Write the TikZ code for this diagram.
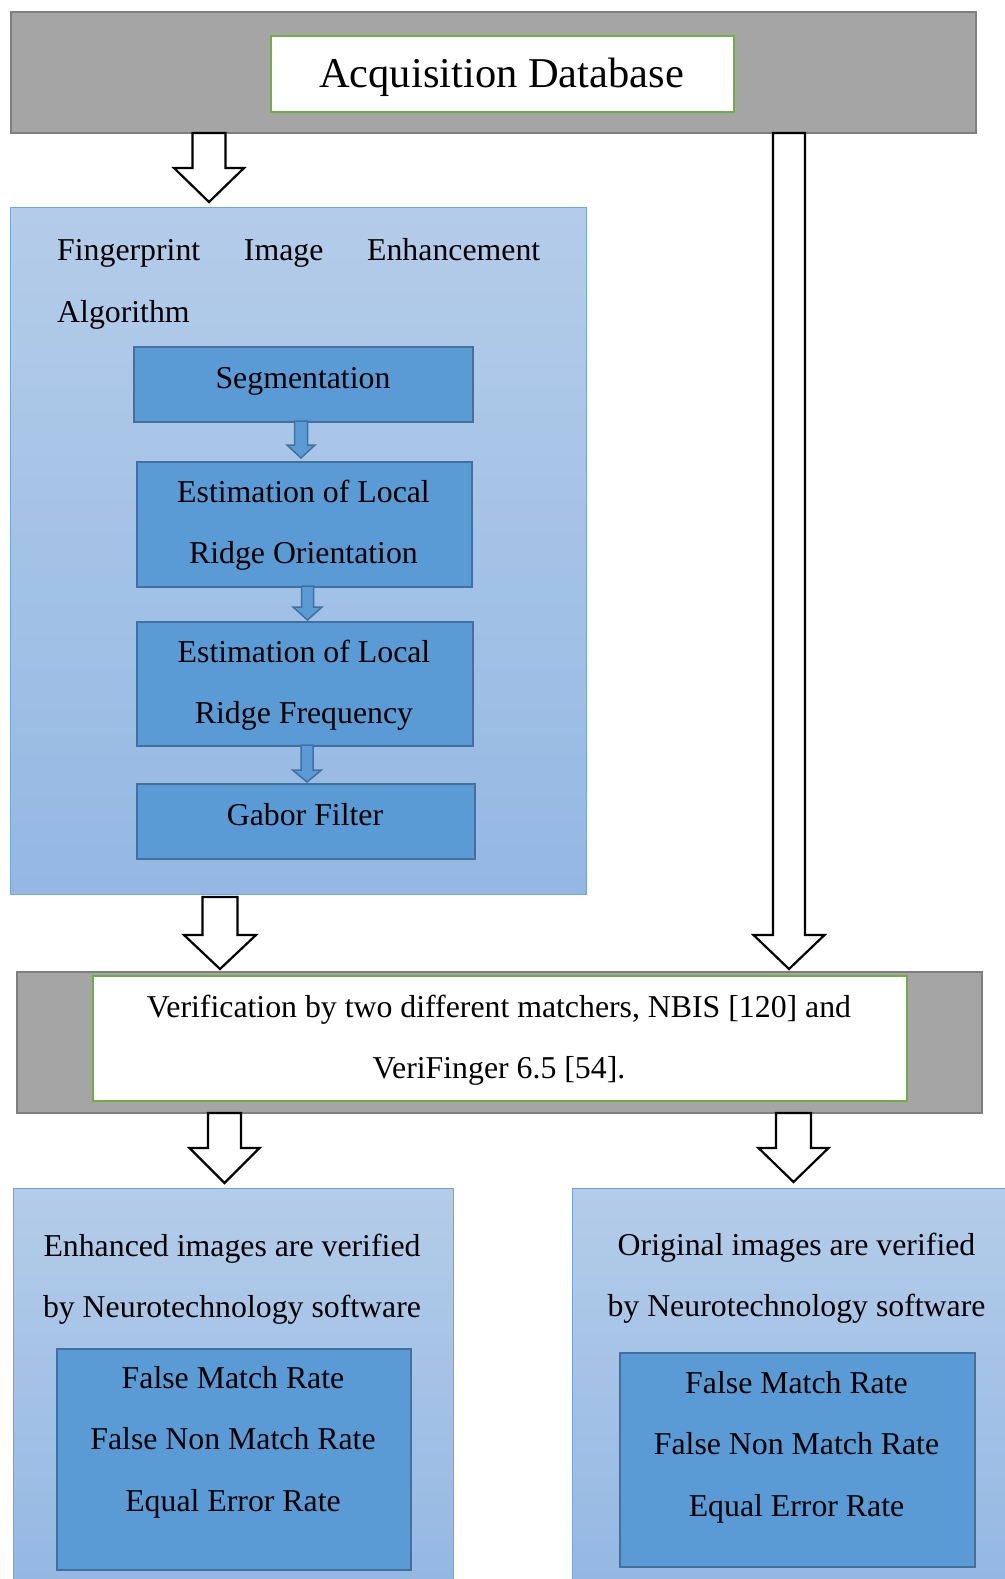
\documentclass[tikz,border=0pt]{standalone}
\usepackage{fontspec}
\setmainfont{Liberation Serif}
\definecolor{barfill}{HTML}{A5A5A5}
\definecolor{barline}{HTML}{7F7F7F}
\definecolor{grn}{HTML}{70AD47}
\definecolor{panelline}{HTML}{6FA6DE}
\definecolor{paneltop}{HTML}{B4CCE9}
\definecolor{panelbot}{HTML}{94B8E3}
\definecolor{stepfill}{HTML}{5B9BD5}
\definecolor{stepline}{HTML}{41719C}
\newcommand\blkarrow[7][hollow]{%
  \draw[#1] ({#2-#6},#3) -- ({#2+#6},#3) -- ({#2+#6},#4) -- ({#2+#7},#4) -- (#2,#5) -- ({#2-#7},#4) -- ({#2-#6},#4) -- cycle;}
\newcommand\linesc[1]{\vtop{\baselineskip=61.5pt\lineskiplimit=-100pt\halign{\hfil##\hfil\cr#1\crcr}}}
\newcommand\linesl[1]{\vtop{\baselineskip=62pt\lineskiplimit=-100pt\halign{##\hfil\cr#1\crcr}}}
\tikzset{
  graybar/.style={draw=barline, fill=barfill, line width=2.2pt, inner sep=0pt, anchor=north west},
  whitebox/.style={draw=grn, fill=white, line width=2.4pt, inner sep=0pt, anchor=north west},
  panel/.style={draw=panelline, line width=1pt, top color=paneltop, bottom color=panelbot, inner sep=0pt, anchor=north west},
  stepbox/.style={draw=stepline, fill=stepfill, line width=2pt, inner sep=0pt, anchor=north west},
  hollow/.style={draw=black, fill=white, line width=2.2pt, line join=miter},
  bluearrow/.style={draw=stepline, fill=stepfill, line width=1.5pt, line join=miter},
  txt/.style={anchor=base, inner sep=0pt, font=\fontsize{31.8}{62}\selectfont},
}
\begin{document}
\begin{tikzpicture}[x=1pt,y=-1pt]
\path[use as bounding box] (0,0) rectangle (1004,1579);

% top bar
\node[graybar, minimum width=965pt, minimum height=121pt] (topbar) at (10,11) {};
\node[whitebox, minimum width=463pt, minimum height=76pt] (titlebox) at (270,35) {};
\node[txt, font=\fontsize{42.5}{50}\selectfont] (title) at (501.5,87) {Acquisition Database};

% left panel
\node[panel, minimum width=576pt, minimum height=687pt] (enh) at (10,207) {};
\node[txt, anchor=base west] (enhtxt) at (57,260)
  {\linesl{\makebox[483pt][s]{Fingerprint Image Enhancement}\cr Algorithm}};

\node[stepbox, minimum width=339pt, minimum height=75pt] (seg) at (133,346) {};
\node[txt] (segtxt) at (303,388) {Segmentation};
\node[stepbox, minimum width=335pt, minimum height=125pt] (orient) at (136,461) {};
\node[txt] (orienttxt) at (303.5,502) {\linesc{Estimation of Local\cr Ridge Orientation}};
\node[stepbox, minimum width=336pt, minimum height=124pt] (freq) at (136,621) {};
\node[txt] (freqtxt) at (304,662) {\linesc{Estimation of Local\cr Ridge Frequency}};
\node[stepbox, minimum width=338pt, minimum height=75pt] (gabor) at (136,783) {};
\node[txt] (gabortxt) at (305,825) {Gabor Filter};

% verification bar
\node[graybar, minimum width=965pt, minimum height=141pt] (verbar) at (16,971) {};
\node[whitebox, minimum width=814pt, minimum height=125pt] (verbox) at (92,975) {};
\node[txt] (vertxt) at (499,1017) {\linesc{Verification by two different matchers, NBIS [120] and\cr VeriFinger 6.5 [54].}};

% bottom panels
\node[panel, minimum width=440pt, minimum height=394pt] (leftres) at (13,1188) {};
\node[txt] (lefttxt) at (232,1256) {\linesc{Enhanced images are verified\cr by Neurotechnology software}};
\node[stepbox, minimum width=354pt, minimum height=221pt] (leftin) at (56,1348) {};
\node[txt] (leftintxt) at (233,1388) {\linesc{False Match Rate\cr False Non Match Rate\cr Equal Error Rate}};

\node[panel, minimum width=434pt, minimum height=394pt] (rightres) at (572,1188) {};
\node[txt] (righttxt) at (796.5,1255) {\linesc{Original images are verified\cr by Neurotechnology software}};
\node[stepbox, minimum width=355pt, minimum height=214pt] (rightin) at (619,1352) {};
\node[txt] (rightintxt) at (796.5,1393) {\linesc{False Match Rate\cr False Non Match Rate\cr Equal Error Rate}};

% hollow block arrows
\blkarrow{209}{133}{168}{202}{16.5}{35}
\blkarrow{789}{133}{935}{969}{16}{35.5}
\blkarrow{220}{897}{935}{969}{17.5}{36}
\blkarrow{224.5}{1113}{1148}{1183}{16.5}{35}
\blkarrow{793.5}{1113}{1148}{1182}{17.5}{35}

% small blue arrows
\blkarrow[bluearrow]{301}{421}{445}{458}{6.5}{14}
\blkarrow[bluearrow]{307.5}{586}{607}{620}{6}{14.5}
\blkarrow[bluearrow]{307}{745}{770}{782}{6}{14.5}
\end{tikzpicture}
\end{document}
